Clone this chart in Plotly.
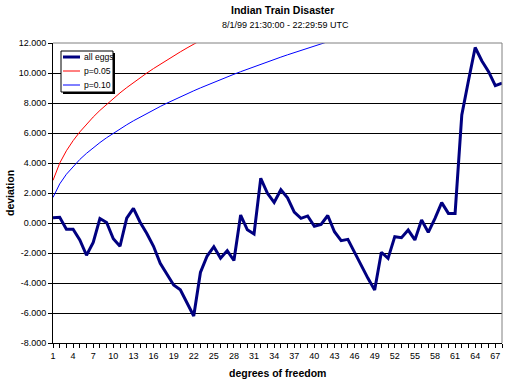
import plotly.graph_objects as go

# ---------------- data ----------------
degrees = list(range(1, 69))
all_eggs = [0.35, 0.38, -0.42, -0.42, -1.13, -2.15, -1.30, 0.30, 0.03, -1.05,
            -1.55, 0.32, 0.98, 0.05, -0.70, -1.55, -2.69, -3.40, -4.13, -4.45,
            -5.36, -6.20, -3.30, -2.20, -1.58, -2.35, -1.84, -2.50, 0.53, -0.45,
            -0.73, 2.98, 1.98, 1.37, 2.22, 1.68, 0.72, 0.31, 0.47, -0.22,
            -0.09, 0.50, -0.58, -1.18, -1.09, -1.98, -2.91, -3.69, -4.47, -1.95,
            -2.36, -0.91, -0.98, -0.47, -1.13, 0.20, -0.62, 0.31, 1.36, 0.64,
            0.64, 7.20, 9.50, 11.70, 10.80, 10.09, 9.16, 9.33]

p05_df = list(range(1, 24))
p05 = [2.841, 3.991, 4.815, 5.488, 6.070, 6.592, 7.067, 7.507, 7.919, 8.307,
       8.675, 9.026, 9.362, 9.685, 9.996, 10.296, 10.587, 10.869, 11.144, 11.410,
       11.671, 11.924, 12.172]

p10_df = list(range(1, 44))
p10 = [1.706, 2.605, 3.251, 3.779, 4.236, 4.645, 5.017, 5.362, 5.684, 5.987,
       6.275, 6.549, 6.812, 7.064, 7.307, 7.542, 7.769, 7.989, 8.204, 8.412,
       8.615, 8.813, 9.007, 9.196, 9.382, 9.563, 9.741, 9.916, 10.087, 10.256,
       10.422, 10.585, 10.745, 10.903, 11.059, 11.212, 11.363, 11.513, 11.660, 11.805,
       11.949, 12.090, 12.230]

x_tickvals = list(range(1, 68, 3))
x_ticktext = [str(v) for v in x_tickvals]
y_tickvals = list(range(-8, 13, 2))
y_ticktext = ["%d.000" % v for v in y_tickvals]

series_names = ["all eggs", "p=0.05", "p=0.10"]
series_colors = ["#000080", "#FF0000", "#0000FF"]

# ---------------- layout helpers ----------------
W, H = 510, 380
L, R, T, B = 53, 502, 43, 343
FONT = "Liberation Sans, Arial, sans-serif"


def fx(px):
    return (px - L) / (R - L)


def fy(py):
    return (B - py) / (B - T)


fig = go.Figure()
fig.add_trace(go.Scatter(x=degrees, y=all_eggs, mode="lines", name=series_names[0],
                         line=dict(color=series_colors[0], width=3), showlegend=False))
fig.add_trace(go.Scatter(x=p05_df, y=p05, mode="lines", name=series_names[1],
                         line=dict(color=series_colors[1], width=1), showlegend=False))
fig.add_trace(go.Scatter(x=p10_df, y=p10, mode="lines", name=series_names[2],
                         line=dict(color=series_colors[2], width=1), showlegend=False))

shapes = [
    # plot-area border (top and right, grey)
    dict(type="line", xref="paper", yref="paper", x0=0, x1=1, y0=1, y1=1,
         line=dict(color="#808080", width=1), layer="above"),
    dict(type="line", xref="paper", yref="paper", x0=1, x1=1, y0=0, y1=1,
         line=dict(color="#808080", width=1), layer="above"),
    # legend shadow and box
    dict(type="rect", xref="paper", yref="paper", x0=fx(63), x1=fx(115), y0=fy(94), y1=fy(53),
         fillcolor="black", line=dict(width=0), layer="above"),
    dict(type="rect", xref="paper", yref="paper", x0=fx(61), x1=fx(113), y0=fy(92), y1=fy(51),
         fillcolor="white", line=dict(color="black", width=1), layer="above"),
]
annotations = []
legend_rows = [57, 71, 85]
legend_widths = [3, 1, 1]
for name, color, yy, lw in zip(series_names, series_colors, legend_rows, legend_widths):
    shapes.append(dict(type="line", xref="paper", yref="paper", x0=fx(63), x1=fx(80),
                       y0=fy(yy), y1=fy(yy), line=dict(color=color, width=lw), layer="above"))
    annotations.append(dict(text=name, xref="paper", yref="paper", x=fx(82), y=fy(yy),
                            xanchor="left", yanchor="middle", showarrow=False,
                            font=dict(family=FONT, size=8.6, color="black")))

annotations += [
    dict(text="<b>Indian Train Disaster</b>", xref="paper", yref="paper", x=fx(282), y=fy(10),
         xanchor="center", yanchor="middle", showarrow=False,
         font=dict(family=FONT, size=10.5, color="black")),
    dict(text="8/1/99 21:30:00 - 22:29:59 UTC", xref="paper", yref="paper", x=fx(285), y=fy(25),
         xanchor="center", yanchor="middle", showarrow=False,
         font=dict(family=FONT, size=9, color="black")),
    dict(text="<b>degrees of freedom</b>", xref="paper", yref="paper", x=fx(277), y=fy(373),
         xanchor="center", yanchor="middle", showarrow=False,
         font=dict(family=FONT, size=10.5, color="black")),
    dict(text="<b>deviation</b>", xref="paper", yref="paper", x=fx(10), y=fy(193),
         xanchor="center", yanchor="middle", showarrow=False, textangle=-90,
         font=dict(family=FONT, size=10.5, color="black")),
]

fig.update_layout(
    width=W, height=H,
    margin=dict(l=L, r=W - R, t=T, b=H - B, pad=0),
    paper_bgcolor="white", plot_bgcolor="white",
    font=dict(family=FONT, size=9, color="black"),
    showlegend=False,
    shapes=shapes, annotations=annotations,
    xaxis=dict(range=[1, 68], tickmode="array", tickvals=x_tickvals, ticktext=x_ticktext,
               showgrid=False, zeroline=False, showline=True, linecolor="black", linewidth=1,
               ticks="outside", ticklen=4, tickcolor="black", tickwidth=1,
               minor=dict(dtick=1, tick0=1, ticks="outside", ticklen=4, tickcolor="black",
                          tickwidth=1, showgrid=False),
               tickfont=dict(family=FONT, size=9, color="black")),
    yaxis=dict(range=[-8, 12], tickmode="array", tickvals=y_tickvals, ticktext=y_ticktext,
               showgrid=True, gridcolor="black", gridwidth=1, zeroline=False,
               showline=True, linecolor="black", linewidth=1,
               ticks="outside", ticklen=4, tickcolor="black", tickwidth=1,
               tickfont=dict(family=FONT, size=9, color="black")),
)

fig.write_html("out.html", config={"displayModeBar": False},
               post_script="document.body.style.margin='0';document.body.style.overflow='hidden';")
